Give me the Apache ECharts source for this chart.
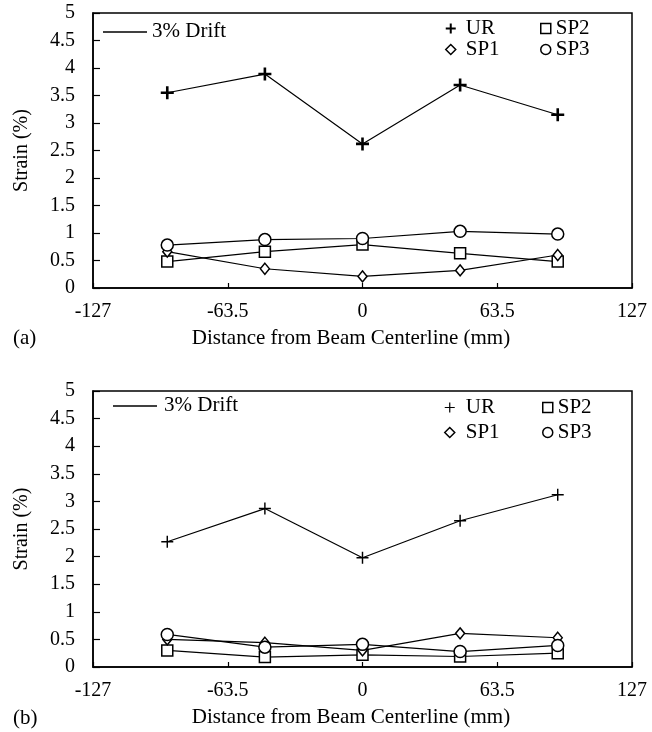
<!DOCTYPE html>
<html>
<head>
<meta charset="utf-8">
<script src="https://cdn.jsdelivr.net/npm/echarts@6/dist/echarts.min.js"></script>
<style>
  html, body { margin: 0; padding: 0; background: #fff; }
  #chart { width: 652px; height: 732px; }
</style>
</head>
<body>
<div id="chart"></div>
<script>
// distance from beam centerline (mm) of the gauges
const positions = [-92, -46, 0, 46, 92];

// (a) 3% drift
const urA = [3.55, 3.89, 2.62, 3.69, 3.15];
const sp1A = [0.66, 0.35, 0.21, 0.32, 0.6];
const sp2A = [0.48, 0.66, 0.79, 0.63, 0.48];
const sp3A = [0.78, 0.88, 0.9, 1.03, 0.98];

// (b) 3% drift
const urB = [2.27, 2.87, 1.98, 2.65, 3.12];
const sp1B = [0.5, 0.44, 0.3, 0.61, 0.53];
const sp2B = [0.3, 0.18, 0.22, 0.19, 0.25];
const sp3B = [0.59, 0.36, 0.41, 0.28, 0.39];

const panelLabels = ['(a)', '(b)'];
const xTitle = 'Distance from Beam Centerline (mm)';
const yTitle = 'Strain (%)';

const FONT = "'Liberation Serif', 'Times New Roman', serif";
const boldCross = 'path://M4,0H6V4H10V6H6V10H4V6H0V4H4Z';
const thinCross = 'path://M4.4,0H5.6V4.4H10V5.6H5.6V10H4.4V5.6H0V4.4H4.4Z';

const hollow = { color: '#fff', borderColor: '#000', borderWidth: 1.5 };

const toPoints = vals => vals.map((v, i) => [positions[i], v]);

const makeSeries = (idx, name, vals, symbol, size, style) => ({
  name: name,
  type: 'line',
  xAxisIndex: idx,
  yAxisIndex: idx,
  data: toPoints(vals),
  symbol: symbol,
  symbolSize: size,
  showAllSymbol: true,
  lineStyle: { color: '#000', width: 1.2 },
  itemStyle: style,
  emphasis: { disabled: true },
  z: name.startsWith('SP3') ? 3 : 2,
});

const grids = [
  { left: 93, top: 13, width: 539, height: 275 },
  { left: 93, top: 391, width: 539, height: 276 },
];

const xAxes = grids.map((g, i) => ({
  type: 'value',
  gridIndex: i,
  min: -127,
  max: 127,
  interval: 63.5,
  axisLine: { onZero: false, lineStyle: { color: '#000', width: 1.5 } },
  axisTick: { inside: true, length: 5, lineStyle: { color: '#000', width: 1.2 } },
  axisLabel: { margin: 14, color: '#000', fontFamily: FONT, fontSize: 20 },
  splitLine: { show: false },
  name: xTitle,
  nameLocation: 'middle',
  nameGap: 40,
  nameTextStyle: { color: '#000', fontFamily: FONT, fontSize: 21, padding: [0, 23, 0, 0] },
}));

const yAxes = grids.map((g, i) => ({
  type: 'value',
  gridIndex: i,
  min: 0,
  max: 5,
  interval: 0.5,
  axisLine: { show: true, onZero: false, lineStyle: { color: '#000', width: 1.5 } },
  axisTick: { show: true, inside: true, length: 7, lineStyle: { color: '#000', width: 1.2 } },
  axisLabel: { margin: 18, color: '#000', fontFamily: FONT, fontSize: 20 },
  splitLine: { show: false },
  name: yTitle,
  nameLocation: 'middle',
  nameRotate: 90,
  nameGap: 61,
  nameTextStyle: { color: '#000', fontFamily: FONT, fontSize: 20 },
}));

const series = [
  makeSeries(0, 'UR-a', urA, boldCross, 13, { color: '#000', borderWidth: 0 }),
  makeSeries(0, 'SP2-a', sp2A, 'rect', 11, hollow),
  makeSeries(0, 'SP1-a', sp1A, 'diamond', [9, 11], hollow),
  makeSeries(0, 'SP3-a', sp3A, 'circle', 12, hollow),
  makeSeries(1, 'UR-b', urB, thinCross, 12, { color: '#000', borderWidth: 0 }),
  makeSeries(1, 'SP2-b', sp2B, 'rect', 11, hollow),
  makeSeries(1, 'SP1-b', sp1B, 'diamond', [9, 11], hollow),
  makeSeries(1, 'SP3-b', sp3B, 'circle', 12, hollow),
];

const legendBase = {
  orient: 'vertical',
  padding: 0,
  itemWidth: 10,
  itemHeight: 10,
  selectedMode: false,
  formatter: name => name.split('-')[0],
  textStyle: { color: '#000', fontFamily: FONT, fontSize: 21, lineHeight: 21 },
};

const legendItem = (name, icon, style) => ({ name: name, icon: icon, itemStyle: style });
const blackFill = { color: '#000', borderWidth: 0 };

const legends = [
  Object.assign({}, legendBase, {
    left: 445, top: 18, itemGap: 0,
    textStyle: Object.assign({}, legendBase.textStyle, { padding: [0, 0, 0, 5] }),
    data: [legendItem('UR-a', boldCross, blackFill), legendItem('SP1-a', 'diamond', hollow)],
  }),
  Object.assign({}, legendBase, {
    left: 540, top: 18, itemGap: 0,
    data: [legendItem('SP2-a', 'rect', hollow), legendItem('SP3-a', 'circle', hollow)],
  }),
  Object.assign({}, legendBase, {
    left: 444, top: 397, itemGap: 4,
    textStyle: Object.assign({}, legendBase.textStyle, { padding: [0, 0, 0, 6] }),
    data: [legendItem('UR-b', thinCross, blackFill), legendItem('SP1-b', 'diamond', hollow)],
  }),
  Object.assign({}, legendBase, {
    left: 542, top: 397, itemGap: 4,
    data: [legendItem('SP2-b', 'rect', hollow), legendItem('SP3-b', 'circle', hollow)],
  }),
];

// "3% Drift" key and panel letters
const driftKey = (x1, x2, y, tx) => [
  { type: 'line', shape: { x1: x1, y1: y, x2: x2, y2: y }, style: { stroke: '#000', lineWidth: 1.5 } },
  {
    type: 'text', left: tx, top: y - 11,
    style: { text: '3% Drift', fill: '#000', font: '21px ' + FONT },
  },
];

const graphic = [
  ...driftKey(103, 147, 32, 152),
  ...driftKey(113, 157, 406, 164),
  { type: 'text', left: 13, top: 328, style: { text: panelLabels[0], fill: '#000', font: '21px ' + FONT } },
  { type: 'text', left: 13, top: 708, style: { text: panelLabels[1], fill: '#000', font: '21px ' + FONT } },
];

const chart = echarts.init(document.getElementById('chart'));
chart.setOption({
  backgroundColor: '#fff',
  animation: false,
  grid: grids.map(g => Object.assign({ show: true, borderColor: '#000', borderWidth: 1.5 }, g)),
  xAxis: xAxes,
  yAxis: yAxes,
  legend: legends,
  graphic: graphic,
  series: series,
});
</script>
</body>
</html>
